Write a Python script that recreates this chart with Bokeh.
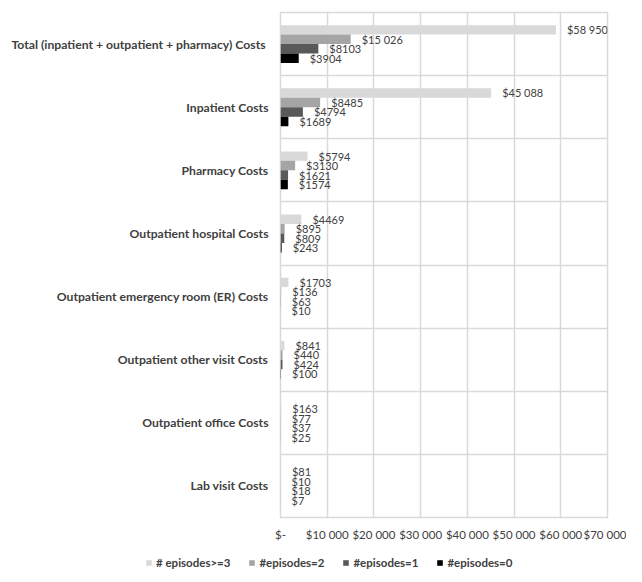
from bokeh.plotting import figure
from bokeh.models import ColumnDataSource, Range1d, FixedTicker, Legend, LegendItem
from bokeh.core.properties import value
from bokeh.embed import file_html
from bokeh.resources import INLINE

categories = [
    "Total (inpatient + outpatient  + pharmacy) Costs",
    "Inpatient Costs",
    "Pharmacy Costs",
    "Outpatient hospital Costs",
    "Outpatient emergency room (ER) Costs",
    "Outpatient other visit Costs",
    "Outpatient office Costs",
    "Lab visit Costs",
]
series_names = ["# episodes>=3", "#episodes=2", "#episodes=1", "#episodes=0"]
ep3 = [58950, 45088, 5794, 4469, 1703, 841, 163, 81]
ep2 = [15026, 8485, 3130, 895, 136, 440, 77, 10]
ep1 = [8103, 4794, 1621, 809, 63, 424, 37, 18]
ep0 = [3904, 1689, 1574, 243, 10, 100, 25, 7]
x_ticks = [0, 10000, 20000, 30000, 40000, 50000, 60000, 70000]

series = [ep3, ep2, ep1, ep0]
colors = ["#d9d9d9", "#a5a5a5", "#595959", "#000000"]
offsets = [0.225, 0.075, -0.075, -0.225]
FONT = "Lato"


def money(v):
    if v == 0:
        return "$-"
    if v >= 10000:
        return "$" + f"{v:,}".replace(",", " ")
    return f"${v}"


n = len(categories)
centers = [n - i - 0.5 for i in range(n)]

p = figure(width=626, height=548, output_backend="svg", toolbar_location=None,
           x_range=Range1d(0, 70000), y_range=Range1d(0, n),
           min_border_left=280, min_border_right=19, min_border_top=12, min_border_bottom=31)
p.background_fill_color = "white"
p.border_fill_color = "white"
p.outline_line_color = "#d9d9d9"
p.outline_line_width = 1.5

for vals, col, off in zip(series, colors, offsets):
    src = ColumnDataSource(dict(
        x=vals,
        y=[c + off for c in centers],
        t=[money(v) for v in vals],
    ))
    p.hbar(y="y", right="x", left=0, height=0.15, source=src,
           fill_color=col, line_color=None)
    p.text(x="x", y="y", text="t", source=src, x_offset=11,
           text_baseline="middle", text_align="left", text_font_size="11px",
           text_color="#404040", text_font=value(FONT))

# axes
p.xaxis.ticker = FixedTicker(ticks=x_ticks)
p.xaxis.major_label_overrides = {t: money(t) for t in x_ticks}
p.xaxis.major_tick_out = 0
p.xaxis.major_tick_in = 0
p.xaxis.minor_tick_out = 0
p.xaxis.minor_tick_in = 0
p.xaxis.axis_line_color = None
p.xaxis.major_label_standoff = 10
p.xaxis.major_label_text_font = FONT
p.xaxis.major_label_text_font_size = "11.5px"
p.xaxis.major_label_text_color = "#404040"

p.yaxis.ticker = FixedTicker(ticks=centers)
p.yaxis.major_label_overrides = {c: cat for c, cat in zip(centers, categories)}
p.yaxis.major_tick_out = 0
p.yaxis.major_tick_in = 0
p.yaxis.minor_tick_out = 0
p.yaxis.minor_tick_in = 0
p.yaxis.axis_line_color = None
p.yaxis.major_label_standoff = 12
p.yaxis.major_label_text_font = FONT
p.yaxis.major_label_text_font_style = "bold"
p.yaxis.major_label_text_font_size = "12.2px"
p.yaxis.major_label_text_color = "#404040"

p.xgrid.ticker = FixedTicker(ticks=x_ticks)
p.xgrid.grid_line_color = "#d9d9d9"
p.xgrid.grid_line_width = 1.5
p.ygrid.ticker = FixedTicker(ticks=list(range(n + 1)))
p.ygrid.grid_line_color = "#d9d9d9"
p.ygrid.grid_line_width = 1.5

# legend strip below the chart, a separate root so it is not frame-aligned
leg = figure(width=626, height=26, output_backend="svg", toolbar_location=None,
             x_range=Range1d(0, 1), y_range=Range1d(0, 1), min_border=0)
leg.axis.visible = False
leg.grid.visible = False
leg.outline_line_color = None
items = []
for col, name in zip(colors, series_names):
    # placeholder swatch renderer, kept outside the visible range
    r = leg.hbar(y=[-5], right=[0], left=0, height=0.1, fill_color=col, line_color=None)
    items.append(LegendItem(label=name, renderers=[r]))

legend = Legend(items=items, orientation="horizontal", location=(145, 5),
                glyph_width=7, glyph_height=7, label_height=12, label_standoff=4,
                spacing=18, padding=0, margin=0, border_line_color=None,
                background_fill_alpha=0,
                label_text_font=FONT, label_text_font_style="bold",
                label_text_font_size="11.5px", label_text_color="#404040")
leg.add_layout(legend)

open("out.html", "w").write(file_html([p, leg], INLINE))
